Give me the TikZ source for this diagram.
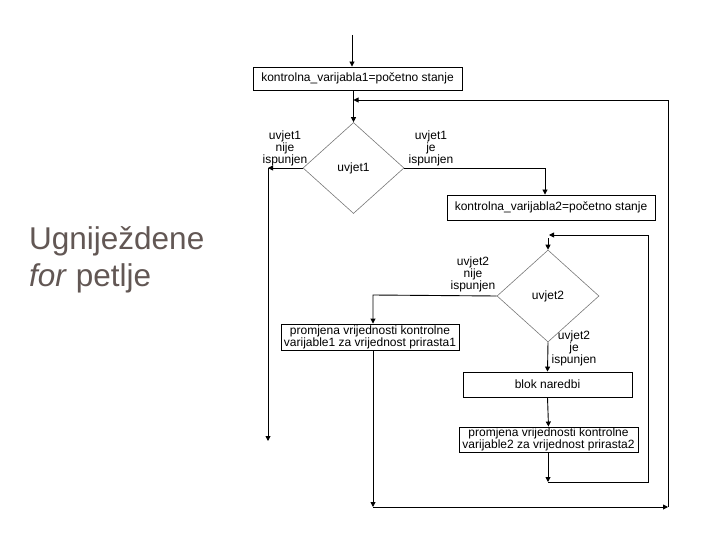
\documentclass[tikz,border=0pt]{standalone}
\usepackage{fontspec}
\setmainfont{Liberation Sans}
\usetikzlibrary{shapes.geometric,arrows.meta}
\definecolor{titlecol}{RGB}{98,87,84}
\definecolor{diacol}{RGB}{120,120,120}
\tikzset{
  fc/.style={font=\fontsize{12}{12}\selectfont},
  boxnode/.style={fc,draw=black,line width=0.9pt,rectangle,inner sep=0pt,align=center},
  dia/.style={fc,draw=diacol,line width=0.6pt,diamond,inner sep=0pt},
  lbl/.style={fc,align=center,inner sep=0pt},
  arr/.style={draw=black,line width=0.9pt,-{Triangle[length=5pt,width=5pt]}},
  ln/.style={draw=black,line width=0.9pt},
  ttl/.style={font=\fontsize{31.5}{37}\selectfont,text=titlecol,inner sep=0pt,anchor=base west}
}
\begin{document}
\begin{tikzpicture}[x=1pt,y=-1pt]
\useasboundingbox (0,0) rectangle (720,540);
% title
\node[ttl] (t1) at (29,249) {Ugniježdene};
\node[ttl] (t2) at (29,286) {\textit{for} petlje};
% nodes
\node[boxnode,minimum width=209pt,minimum height=23pt] (box1) at (357.5,78.5) {kontrolna\_varijabla1=početno stanje};
\node[dia,minimum width=101pt,minimum height=91pt] (d1) at (353.5,168) {uvjet1};
\node[boxnode,minimum width=208pt,minimum height=25pt] (box2) at (551,207.5) {kontrolna\_varijabla2=početno stanje};
\node[dia,minimum width=102pt,minimum height=92pt] (d2) at (548,296) {uvjet2};
\node[boxnode,minimum width=178pt,minimum height=26pt] (box3) at (370,337) {promjena vrijednosti kontrolne\\varijable1 za vrijednost prirasta1};
\node[boxnode,minimum width=169pt,minimum height=25pt] (blok) at (547.5,384.5) {blok naredbi};
\node[boxnode,minimum width=179pt,minimum height=25pt] (box4) at (548.5,439.5) {promjena vrijednosti kontrolne\\varijable2 za vrijednost prirasta2};
% labels
\node[lbl] (lab1) at (285,148) {uvjet1\\nije\\ispunjen};
\node[lbl] (lab2) at (431,148) {uvjet1\\je\\ispunjen};
\node[lbl] (lab3) at (473,274) {uvjet2\\nije\\ispunjen};
\node[lbl] (lab4) at (574,348) {uvjet2\\je\\ispunjen};
% coordinates
\coordinate (start) at (352,35);
\coordinate (l1) at (268,168);
\coordinate (exit) at (268,441);
\coordinate (r1) at (545,168);
\coordinate (o1) at (373,507);
\coordinate (o2) at (668,507);
\coordinate (o3) at (668,100);
\coordinate (i1) at (548,482);
\coordinate (i2) at (648,482);
\coordinate (i3) at (648,235);
\coordinate (i4) at (549,235);
\coordinate (i5) at (548,238);
\coordinate (l2) at (373,295);
% connectors
\draw[arr] (start) -- (start |- box1.north);
\draw[arr] (d1.north |- box1.south) -- (d1.north);
\draw[arr] (d1.west) -- (l1);
\draw[arr] (l1) -- (exit);
\draw[arr] (d1.east) -- (r1) -- (r1 |- box2.north);
\draw[arr] (i5) -- (d2.north);
\draw[arr] (d2.west) -- (l2) -- (l2 |- box3.north);
\draw[arr] (d2.south) -- (blok.north);
\draw[arr] (blok.south) -- (box4.north);
\draw[arr] (i1 |- box4.south) -- (i1);
\draw[ln] (i1) -- (i2) -- (i3);
\draw[arr] (i3) -- (i4);
\draw[arr] (o1 |- box3.south) -- (o1);
\draw[arr] (o1) -- (o2);
\draw[arr] (o2) -- (o3) -- (d1.north |- o3);
\end{tikzpicture}
\end{document}
